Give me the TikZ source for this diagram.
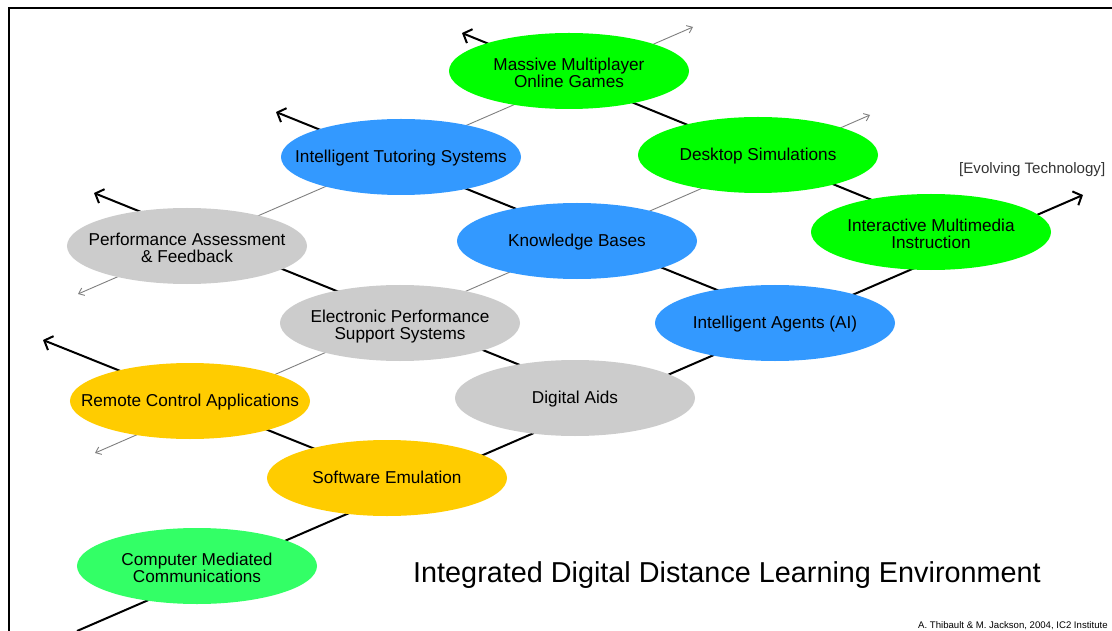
\documentclass[tikz,border=0pt]{standalone}
\usepackage{fontspec}
\setmainfont{Liberation Sans}
\usetikzlibrary{shapes.geometric,arrows.meta}

\definecolor{netgreen}{HTML}{00FF00}
\definecolor{cmcgreen}{HTML}{33FF66}
\definecolor{aiblue}{HTML}{3399FF}
\definecolor{supgray}{HTML}{CCCCCC}
\definecolor{ctrlgold}{HTML}{FFCC00}
\definecolor{guidegray}{HTML}{7F7F7F}
\definecolor{notegray}{HTML}{333333}

% centred label text, set a little low inside its ellipse
\newcommand\techtext[2][-2bp]{\raisebox{#1}[\height][\depth]{%
  \begin{tabular}{@{}c@{}}#2\end{tabular}}}

\tikzset{
  tech/.style={ellipse, draw=none, minimum width=240bp, minimum height=76bp,
    inner xsep=-50bp, inner ysep=0pt, text=black,
    font=\fontsize{17.2bp}{17.5bp}\selectfont},
  axisline/.style={line width=2bp, black,
    -{Straight Barb[length=7bp,width=15bp]}},
  guideline/.style={line width=0.9bp, guidegray,
    {Straight Barb[length=5bp,width=8bp]}-{Straight Barb[length=5bp,width=8bp]}},
  frameline/.style={line width=1.3bp, black},
}

\begin{document}
\begin{tikzpicture}[x=1bp, y=-1bp]
\useasboundingbox (0,0) rectangle (1112,631);

% frame
\coordinate (fbl) at (9,631);
\coordinate (ftl) at (9,8);
\coordinate (ftr) at (1112,8);
\draw[frameline] (fbl) -- (ftl) -- (ftr);

% axis end points
\coordinate (mainS) at (77,631);
\coordinate (mainE) at (1083,195);
\coordinate (a1s) at (975,242);  \coordinate (a1e) at (462,33);
\coordinate (a2s) at (794,321);  \coordinate (a2e) at (276,112);
\coordinate (a3s) at (609,401);  \coordinate (a3e) at (94,193);
\coordinate (a4s) at (410,487);  \coordinate (a4e) at (43,340);
\coordinate (t1s) at (95,453);   \coordinate (t1e) at (870,115);
\coordinate (t2s) at (78,294);   \coordinate (t2e) at (693,27);

% thin guide lines
\draw[guideline] (t1s) -- (t1e);
\draw[guideline] (t2s) -- (t2e);

% main technology axis and its branches
\draw[axisline] (mainS) -- (mainE);
\draw[axisline] (a1s) -- (a1e);
\draw[axisline] (a2s) -- (a2e);
\draw[axisline] (a3s) -- (a3e);
\draw[axisline] (a4s) -- (a4e);

% technology ellipses
\node[tech, fill=netgreen] (mmog) at (569,71) {\techtext[-4.5bp]{Massive Multiplayer\\Online Games}};
\node[tech, fill=netgreen] (desk) at (758,155) {\techtext{Desktop Simulations}};
\node[tech, fill=netgreen] (imi)  at (931,232) {\techtext[-4.5bp]{Interactive Multimedia\\Instruction}};

\node[tech, fill=aiblue] (its) at (401,157) {\techtext{Intelligent Tutoring Systems}};
\node[tech, fill=aiblue] (kb)  at (577,241) {\techtext{Knowledge Bases}};
\node[tech, fill=aiblue] (ia)  at (775,323) {\techtext{Intelligent Agents (AI)}};

\node[tech, fill=supgray] (paf)  at (187,246) {\techtext[-4.5bp]{Performance Assessment\\\& Feedback}};
\node[tech, fill=supgray] (epss) at (400,323) {\techtext[-4.5bp]{Electronic Performance\\Support Systems}};
\node[tech, fill=supgray] (da)   at (575,398) {\techtext{Digital Aids}};

\node[tech, fill=ctrlgold] (rca) at (190,401) {\techtext{Remote Control Applications}};
\node[tech, fill=ctrlgold] (se)  at (387,478) {\techtext{Software Emulation}};

\node[tech, fill=cmcgreen] (cmc) at (197,566) {\techtext[-4.5bp]{Computer Mediated\\Communications}};

% captions
\node[anchor=base west, inner sep=0pt, text=notegray,
  font=\fontsize{15.1bp}{16bp}\selectfont] (evo) at (959,174) {[Evolving Technology]};
\node[anchor=base west, inner sep=0pt, text=black,
  font=\fontsize{28.8bp}{30bp}\selectfont] (title) at (413,582)
  {Integrated Digital Distance Learning Environment};
\node[anchor=base west, inner sep=0pt, text=black,
  font=\fontsize{9.6bp}{10bp}\selectfont] (credit) at (918,628)
  {A. Thibault \& M. Jackson, 2004, IC2 Institute};
\end{tikzpicture}
\end{document}
